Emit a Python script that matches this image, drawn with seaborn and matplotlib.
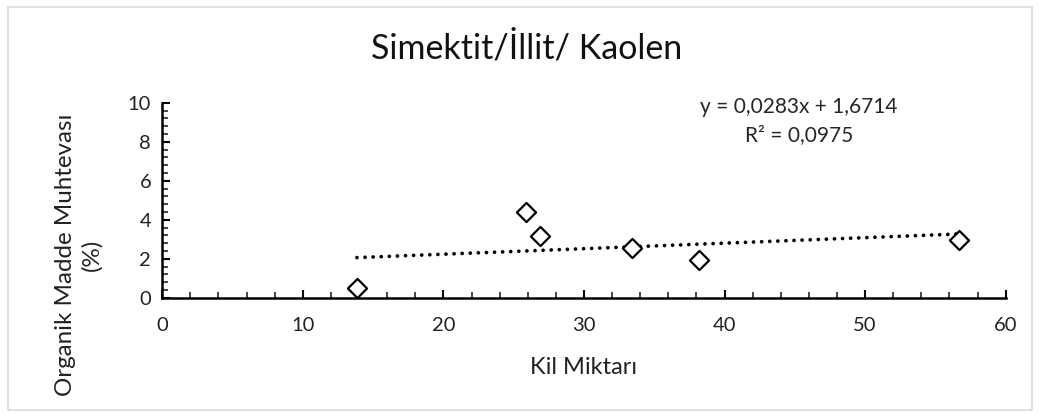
import matplotlib
matplotlib.use("Agg")
import matplotlib.pyplot as plt
import seaborn as sns
import numpy as np
import pandas as pd
from matplotlib.patches import Rectangle
from matplotlib.ticker import MultipleLocator

# ---- data ----
kil_miktari = [13.85, 25.9, 26.9, 33.4, 38.2, 56.7]
organik_madde = [0.5, 4.4, 3.15, 2.55, 1.95, 2.95]
trend_slope = 0.0283
trend_intercept = 1.6714
r_squared = "0,0975"
x_ticks = [0, 10, 20, 30, 40, 50, 60]
y_ticks = [0, 2, 4, 6, 8, 10]

title = "Simektit/İllit/ Kaolen"
x_label = "Kil Miktarı"
y_label = "Organik Madde Muhtevası\n(%)"

sns.set_theme(style="white")
plt.rcParams['font.family'] = ['Lato', 'DejaVu Sans']

fig = plt.figure(figsize=(10.4, 4.16), dpi=100)
ax = fig.add_axes([0.156, 0.284, 0.811, 0.469])

df = pd.DataFrame({"x": kil_miktari, "y": organik_madde})

# trendline
xs = np.array([min(kil_miktari), max(kil_miktari)])
ax.plot(xs, trend_slope * xs + trend_intercept, color="black", lw=2.7,
        linestyle=(0, (0.01, 2.15)), dash_capstyle="round", zorder=2)

sns.scatterplot(data=df, x="x", y="y", ax=ax, marker="D", s=95,
                facecolor="white", edgecolor="black", linewidth=1.6, zorder=3)

ax.set_xlim(0, 60)
ax.set_ylim(0, 10)
ax.set_xticks(x_ticks)
ax.set_yticks(y_ticks)
ax.xaxis.set_minor_locator(MultipleLocator(2))
ax.yaxis.set_minor_locator(MultipleLocator(0.4))
ax.tick_params(axis="both", which="major", direction="in", length=6, width=1.5,
               labelsize=14.5, colors="black", pad=8, bottom=True, left=True)
ax.tick_params(axis="both", which="minor", direction="in", length=4, width=1.2,
               bottom=True, left=True)
ax.tick_params(axis="x", which="major", pad=14)
for lab in ax.get_xticklabels() + ax.get_yticklabels():
    lab.set_color("#222222")

for s in ["top", "right"]:
    ax.spines[s].set_visible(False)
for s in ["left", "bottom"]:
    ax.spines[s].set_color("black")
    ax.spines[s].set_linewidth(1.8)

ax.set_xlabel(x_label, fontsize=17, color="#222222", labelpad=16)
ax.set_ylabel(y_label, color="#222222", linespacing=1.3, fontsize=17.4)
ax.yaxis.set_label_coords(-0.071, 0.22)

fig.text(527 / 1040, 1 - 48 / 416, title, fontsize=24.5, color="#111111",
         ha="center", va="center")

ax.text(0.755, 0.978, f"y = {trend_slope:.4f}x + {trend_intercept:.4f}".replace(".", ","),
        transform=ax.transAxes, ha="center", va="center", fontsize=15)
ax.text(0.755, 0.834, f"R² = {r_squared}", transform=ax.transAxes,
        ha="center", va="center", fontsize=15)

fig.patches.append(Rectangle((8 / 1040, 6 / 416), 1024 / 1040, 403 / 416,
                             transform=fig.transFigure, fill=False,
                             edgecolor="#d9d9d9", lw=1.2))

fig.savefig("out.png", dpi=100)
